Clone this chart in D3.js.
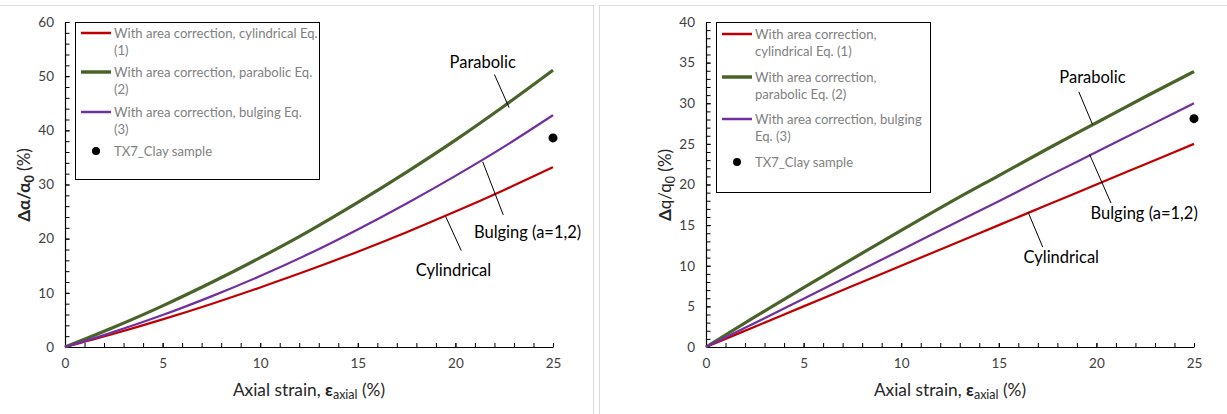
<!DOCTYPE html>
<html>
<head>
<meta charset="utf-8">
<script src="https://cdn.jsdelivr.net/npm/d3@7"></script>
<style>
  body { margin: 0; background: #fff; }
  svg { display: block; font-family: Lato, "Open Sans", sans-serif; }
</style>
</head>
<body>
<svg id="chart" width="1227" height="414"></svg>
<script>
// axial strain (%) sampled along every curve
var strain = [0, 2.5, 5, 7.5, 10, 12.5, 15, 17.5, 20, 22.5, 25];

// left panel: delta alpha / alpha0 (%)
var alphaCyl = [0, 2.45, 5.1, 7.95, 11.0, 14.2, 17.6, 21.2, 25.0, 29.0, 33.2];
var alphaPar = [0, 3.65, 7.6, 11.9, 16.5, 21.4, 26.7, 32.3, 38.2, 44.5, 51.1];
var alphaBul = [0, 2.8, 5.9, 9.35, 13.1, 17.2, 21.7, 26.5, 31.6, 37.0, 42.8];
var alphaSample = [{x: 25, y: 38.6}];

// right panel: delta q / q0 (%)
var qCyl = [0, 2.5, 5.0, 7.5, 10.0, 12.5, 15.0, 17.5, 20.0, 22.5, 25.0];
var qPar = [0, 3.7, 7.3, 10.85, 14.35, 17.8, 21.1, 24.4, 27.6, 30.8, 33.9];
var qBul = [0, 2.95, 5.95, 8.95, 11.95, 14.95, 17.95, 21.0, 24.0, 27.0, 30.0];
var qSample = [{x: 25, y: 28.1}];

var xTicks = [0, 5, 10, 15, 20, 25];
var alphaTicks = [0, 10, 20, 30, 40, 50, 60];
var qTicks = [0, 5, 10, 15, 20, 25, 30, 35, 40];

var colors = {cyl: '#c00000', par: '#4a6329', bul: '#7030a0'};

var svg = d3.select('#chart');

// panel frames
svg.append('rect').attr('x', -2).attr('y', 5.5).attr('width', 595.5).attr('height', 420)
    .attr('fill', 'none').attr('stroke', '#d9d9d9');
svg.append('rect').attr('x', 599.5).attr('y', 5.5).attr('width', 640).attr('height', 420)
    .attr('fill', 'none').attr('stroke', '#d9d9d9');

function drawPanel(p) {
    var g = svg.append('g');
    var x = d3.scaleLinear().domain([0, 25]).range([p.left, p.left + 488]);
    var y = d3.scaleLinear().domain([0, p.ymax]).range([347, 22]);

    // minor ticks
    g.append('g').attr('transform', 'translate(0,347)')
        .call(d3.axisBottom(x).tickValues(d3.range(0, 26, 1)).tickFormat('').tickSize(-4).tickSizeOuter(0))
        .call(function(a){ a.select('.domain').remove(); });
    g.append('g').attr('transform', 'translate(' + p.left + ',0)')
        .call(d3.axisLeft(y).tickValues(d3.range(0, p.ymax + 0.01, p.yminor)).tickFormat('').tickSize(-4.5).tickSizeOuter(0))
        .call(function(a){ a.select('.domain').remove(); });

    // major axes
    var xa = g.append('g').attr('transform', 'translate(0,347)')
        .call(d3.axisBottom(x).tickValues(xTicks).tickSize(-4).tickSizeOuter(0).tickPadding(11));
    var ya = g.append('g').attr('transform', 'translate(' + p.left + ',0)')
        .call(d3.axisLeft(y).tickValues(p.yticks).tickSize(-4.5).tickSizeOuter(0).tickPadding(11));
    [xa, ya].forEach(function(a){
        a.selectAll('text').attr('font-family', 'Lato, sans-serif').attr('font-size', 13.5).attr('fill', '#404040');
        a.select('.domain').attr('stroke', '#000').attr('stroke-width', 1.2);
    });
    g.selectAll('.tick line').attr('stroke', '#000');

    // curves
    var line = d3.line()
        .x(function(d, i){ return x(strain[i]); })
        .y(function(d){ return y(d); })
        .curve(d3.curveMonotoneX);
    p.series.forEach(function(s){
        g.append('path').datum(s.values)
            .attr('d', line)
            .attr('fill', 'none')
            .attr('stroke', s.color)
            .attr('stroke-width', s.width);
    });

    // sample point
    g.selectAll('circle.sample').data(p.sample).enter().append('circle')
        .attr('class', 'sample')
        .attr('cx', function(d){ return x(d.x); })
        .attr('cy', function(d){ return y(d.y); })
        .attr('r', 4.5)
        .attr('fill', '#000');

    // annotations with leader lines
    p.notes.forEach(function(n){
        g.append('line')
            .attr('x1', x(n.from[0])).attr('y1', y(n.from[1]))
            .attr('x2', x(n.to[0])).attr('y2', y(n.to[1]))
            .attr('stroke', '#000').attr('stroke-width', 1);
        g.append('text')
            .attr('x', x(n.at[0])).attr('y', y(n.at[1]))
            .attr('text-anchor', n.anchor)
            .attr('font-size', 16.5)
            .attr('fill', '#000')
            .text(n.text);
    });

    // legend
    var lg = g.append('g');
    lg.append('rect')
        .attr('x', p.legend.x + 0.5).attr('y', 22.5)
        .attr('width', p.legend.w).attr('height', p.legend.h)
        .attr('fill', '#fff').attr('stroke', '#000').attr('stroke-width', 1);
    p.legend.rows.forEach(function(r){
        if (r.color) {
            lg.append('line')
                .attr('x1', p.legend.x + 6).attr('x2', p.legend.x + 36)
                .attr('y1', r.y).attr('y2', r.y)
                .attr('stroke', r.color).attr('stroke-width', r.width);
        } else {
            lg.append('circle').attr('cx', p.legend.x + 21).attr('cy', r.y).attr('r', 4).attr('fill', '#000');
        }
        r.lines.forEach(function(t, i){
            lg.append('text')
                .attr('x', p.legend.x + 39).attr('y', r.y + i * 17.5)
                .attr('dy', '0.35em')
                .attr('font-size', 13.1)
                .attr('fill', '#7f7f7f')
                .text(t);
        });
    });

    // x title
    var xt = g.append('text')
        .attr('x', p.left + 244).attr('y', 396)
        .attr('text-anchor', 'middle')
        .attr('font-size', 17.3)
        .attr('fill', '#262626');
    xt.append('tspan').text('Axial strain, ');
    xt.append('tspan').attr('font-weight', 'bold').text('\u03b5');
    xt.append('tspan').attr('font-size', 12.5).attr('dy', 3).text('axial');
    xt.append('tspan').attr('dy', -3).text(' (%)');

    // y title
    var yt = g.append('text')
        .attr('transform', 'translate(' + (p.left - 35) + ',185) rotate(-90)')
        .attr('text-anchor', 'middle')
        .attr('font-size', 17)
        .attr('fill', '#262626');
    p.ytitle(yt);
}

drawPanel({
    left: 65,
    ymax: 60,
    yminor: 2,
    yticks: alphaTicks,
    series: [
        {values: alphaCyl, color: colors.cyl, width: 2.2},
        {values: alphaPar, color: colors.par, width: 3.2},
        {values: alphaBul, color: colors.bul, width: 2.2}
    ],
    sample: alphaSample,
    notes: [
        {text: 'Parabolic', at: [21.4, 51.5], anchor: 'middle', from: [22.0, 50.3], to: [22.75, 44.2]},
        {text: 'Bulging (a=1,2)', at: [20.95, 20.2], anchor: 'start', from: [21.4, 34.2], to: [22.45, 24.4]},
        {text: 'Cylindrical', at: [19.9, 13.2], anchor: 'middle', from: [19.5, 24.1], to: [20.3, 17.8]}
    ],
    legend: {
        x: 75, w: 244, h: 157,
        rows: [
            {color: colors.cyl, width: 2.5, y: 33, lines: ['With area correction, cylindrical Eq.', '(1)']},
            {color: colors.par, width: 3.5, y: 72, lines: ['With area correction, parabolic Eq.', '(2)']},
            {color: colors.bul, width: 2.5, y: 112, lines: ['With area correction, bulging Eq.', '(3)']},
            {color: null, y: 151, lines: ['TX7_Clay sample']}
        ]
    },
    ytitle: function(t){
        t.append('tspan').attr('font-weight', 'bold').text('\u0394\u03b1/\u03b1');
        t.append('tspan').attr('font-weight', 'bold').attr('font-size', 12.5).attr('dy', 4).text('0');
        t.append('tspan').attr('dy', -4).text(' (%)');
    }
});

drawPanel({
    left: 706,
    ymax: 40,
    yminor: 1,
    yticks: qTicks,
    series: [
        {values: qCyl, color: colors.cyl, width: 2.2},
        {values: qPar, color: colors.par, width: 3.2},
        {values: qBul, color: colors.bul, width: 2.2}
    ],
    sample: qSample,
    notes: [
        {text: 'Parabolic', at: [19.8, 32.5], anchor: 'middle', from: [19.1, 31.4], to: [19.8, 27.4]},
        {text: 'Bulging (a=1,2)', at: [19.7, 15.8], anchor: 'start', from: [19.65, 23.7], to: [20.75, 17.7]},
        {text: 'Cylindrical', at: [18.2, 10.3], anchor: 'middle', from: [16.5, 16.6], to: [17.25, 12.3]}
    ],
    legend: {
        x: 716, w: 214, h: 170,
        rows: [
            {color: colors.cyl, width: 2.5, y: 34, lines: ['With area correction,', 'cylindrical Eq. (1)']},
            {color: colors.par, width: 3.5, y: 77, lines: ['With area correction,', 'parabolic Eq. (2)']},
            {color: colors.bul, width: 2.5, y: 119, lines: ['With area correction, bulging', 'Eq. (3)']},
            {color: null, y: 162, lines: ['TX7_Clay sample']}
        ]
    },
    ytitle: function(t){
        t.append('tspan').attr('font-weight', 'bold').text('\u0394');
        t.append('tspan').text('q/q');
        t.append('tspan').attr('font-size', 12.5).attr('dy', 4).text('0');
        t.append('tspan').attr('dy', -4).text(' (%)');
    }
});
</script>
</body>
</html>
